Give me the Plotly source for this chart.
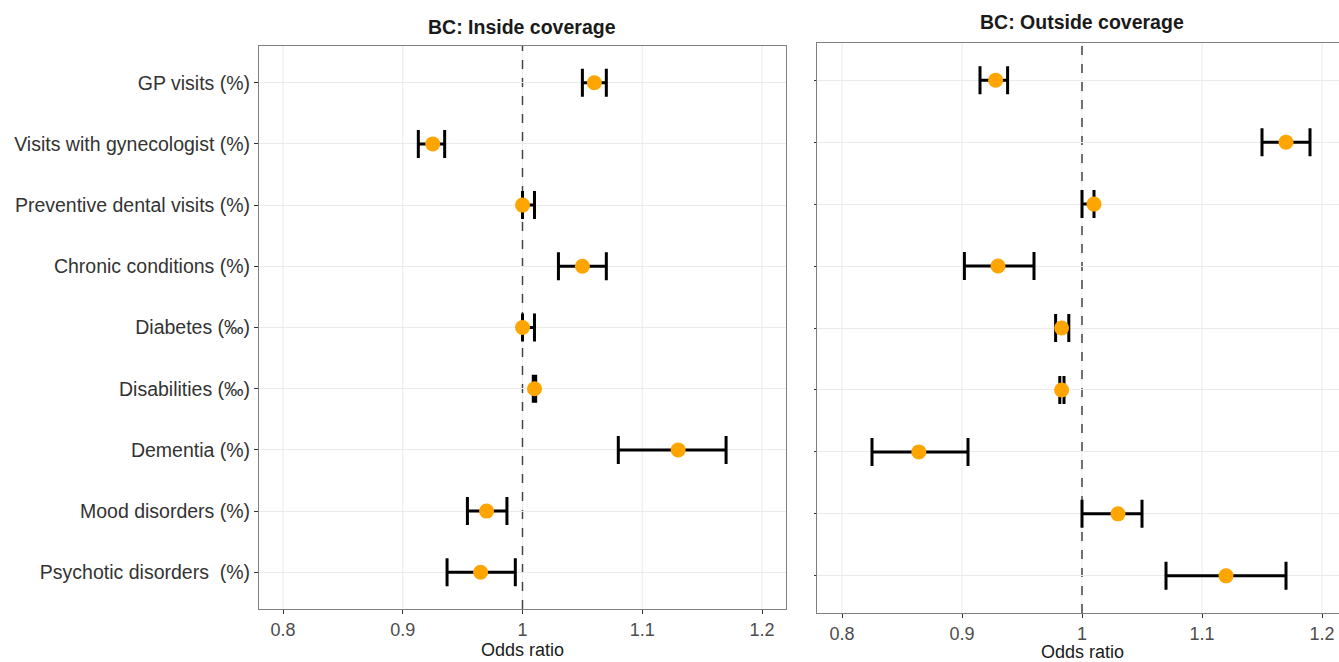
import plotly.graph_objects as go

categories = ["GP visits (%)", "Visits with gynecologist (%)", "Preventive dental visits (%)",
              "Chronic conditions (%)", "Diabetes (‰)", "Disabilities (‰)", "Dementia (%)",
              "Mood disorders (%)", "Psychotic disorders  (%)"]

inside_or = [1.060, 0.925, 1.000, 1.050, 1.000, 1.010, 1.130, 0.970, 0.965]
inside_lo = [1.050, 0.913, 1.000, 1.030, 1.000, 1.009, 1.080, 0.954, 0.937]
inside_hi = [1.070, 0.935, 1.010, 1.070, 1.010, 1.011, 1.170, 0.987, 0.994]

outside_or = [0.928, 1.170, 1.010, 0.930, 0.983, 0.983, 0.864, 1.030, 1.120]
outside_lo = [0.915, 1.150, 1.000, 0.902, 0.978, 0.9815, 0.825, 1.000, 1.070]
outside_hi = [0.938, 1.190, 1.010, 0.960, 0.989, 0.985, 0.905, 1.050, 1.170]

x_ticks = [0.8, 0.9, 1.0, 1.1, 1.2]
x_ticklabels = ["0.8", "0.9", "1", "1.1", "1.2"]
null_or = 1.0

titles = ["BC: Inside coverage", "BC: Outside coverage"]
x_title = "Odds ratio"

W, H = 1339, 662
FONT = "Liberation Sans, Arial, sans-serif"
ORANGE = "#FFA500"
GRID = "#EBEBEB"

fig = go.Figure()

def add_panel(vals, lo, hi, xa, ya):
    fig.add_trace(go.Scatter(
        x=vals, y=categories, mode="markers", xaxis=xa, yaxis=ya,
        marker=dict(color=ORANGE, size=15, line=dict(width=0)),
        error_x=dict(type="data", symmetric=False,
                     array=[h - v for h, v in zip(hi, vals)],
                     arrayminus=[v - l for v, l in zip(vals, lo)],
                     color="black", thickness=3, width=14),
        showlegend=False, hoverinfo="x+y"))

add_panel(inside_or, inside_lo, inside_hi, "x", "y")
add_panel(outside_or, outside_lo, outside_hi, "x2", "y2")

def px_x(p):
    return p / W

def px_y(p):
    return 1 - p / H

common_x = dict(tickvals=x_ticks, ticktext=x_ticklabels, showgrid=False,
                zeroline=False, showline=True, linecolor="#7F7F7F", linewidth=1,
                ticks="outside", ticklen=4, tickcolor="#333333", automargin=False,
                tickfont=dict(family=FONT, size=18, color="#4D4D4D"))
common_y = dict(type="category", categoryorder="array", categoryarray=categories,
                range=[8.6, -0.6], showgrid=True, gridcolor=GRID, gridwidth=1,
                zeroline=False, showline=True, linecolor="#7F7F7F", linewidth=1,
                ticks="outside", tickcolor="#333333", automargin=False,
                tickfont=dict(family=FONT, size=19.5, color="#333333"))

dash_line = dict(color="#444444", width=1.5, dash="dash")

shapes = []
for xa, ya in (("x", "y"), ("x2", "y2")):
    for t in x_ticks:
        shapes.append(dict(type="line", xref=xa, yref=ya + " domain", x0=t, x1=t, y0=0, y1=1,
                           line=dict(color=GRID, width=1), layer="below"))
for xa, ya in (("x", "y"), ("x2", "y2")):
    shapes.append(dict(type="line", xref=xa, yref=ya + " domain", x0=null_or, x1=null_or,
                       y0=0, y1=1, line=dash_line, layer="below"))

fig.update_layout(
    width=W, height=H, margin=dict(l=0, r=0, t=0, b=0, autoexpand=False),
    paper_bgcolor="white", plot_bgcolor="white",
    xaxis=dict(domain=[px_x(259), px_x(786)], range=[0.77996, 1.22004], anchor="y",
               mirror=True, **common_x),
    yaxis=dict(domain=[px_y(609), px_y(46)], anchor="x", mirror=True, ticklen=4,
               showticklabels=True, **common_y),
    xaxis2=dict(domain=[px_x(817), 1.0], range=[0.77917, 1.21417], anchor="y2",
                mirror=True, **common_x),
    yaxis2=dict(domain=[px_y(613), px_y(43)], anchor="x2", mirror=False, ticklen=2,
                showticklabels=False, **common_y),
    shapes=shapes,
    annotations=[
        dict(text="<b>%s</b>" % titles[0], xref="paper", yref="paper",
             x=px_x(522), y=px_y(27), xanchor="center", yanchor="middle", showarrow=False,
             font=dict(family=FONT, size=19.5, color="#1A1A1A")),
        dict(text="<b>%s</b>" % titles[1], xref="paper", yref="paper",
             x=px_x(1082), y=px_y(22), xanchor="center", yanchor="middle", showarrow=False,
             font=dict(family=FONT, size=19.5, color="#1A1A1A")),
        dict(text=x_title, xref="paper", yref="paper",
             x=px_x(522), y=px_y(650), xanchor="center", yanchor="middle", showarrow=False,
             font=dict(family=FONT, size=18, color="#1A1A1A")),
        dict(text=x_title, xref="paper", yref="paper",
             x=px_x(1082), y=px_y(652), xanchor="center", yanchor="middle", showarrow=False,
             font=dict(family=FONT, size=18, color="#1A1A1A")),
    ],
)

fig.write_html("out.html", config={"displayModeBar": False},
               post_script="document.body.style.margin='0';document.body.style.overflow='hidden';")
